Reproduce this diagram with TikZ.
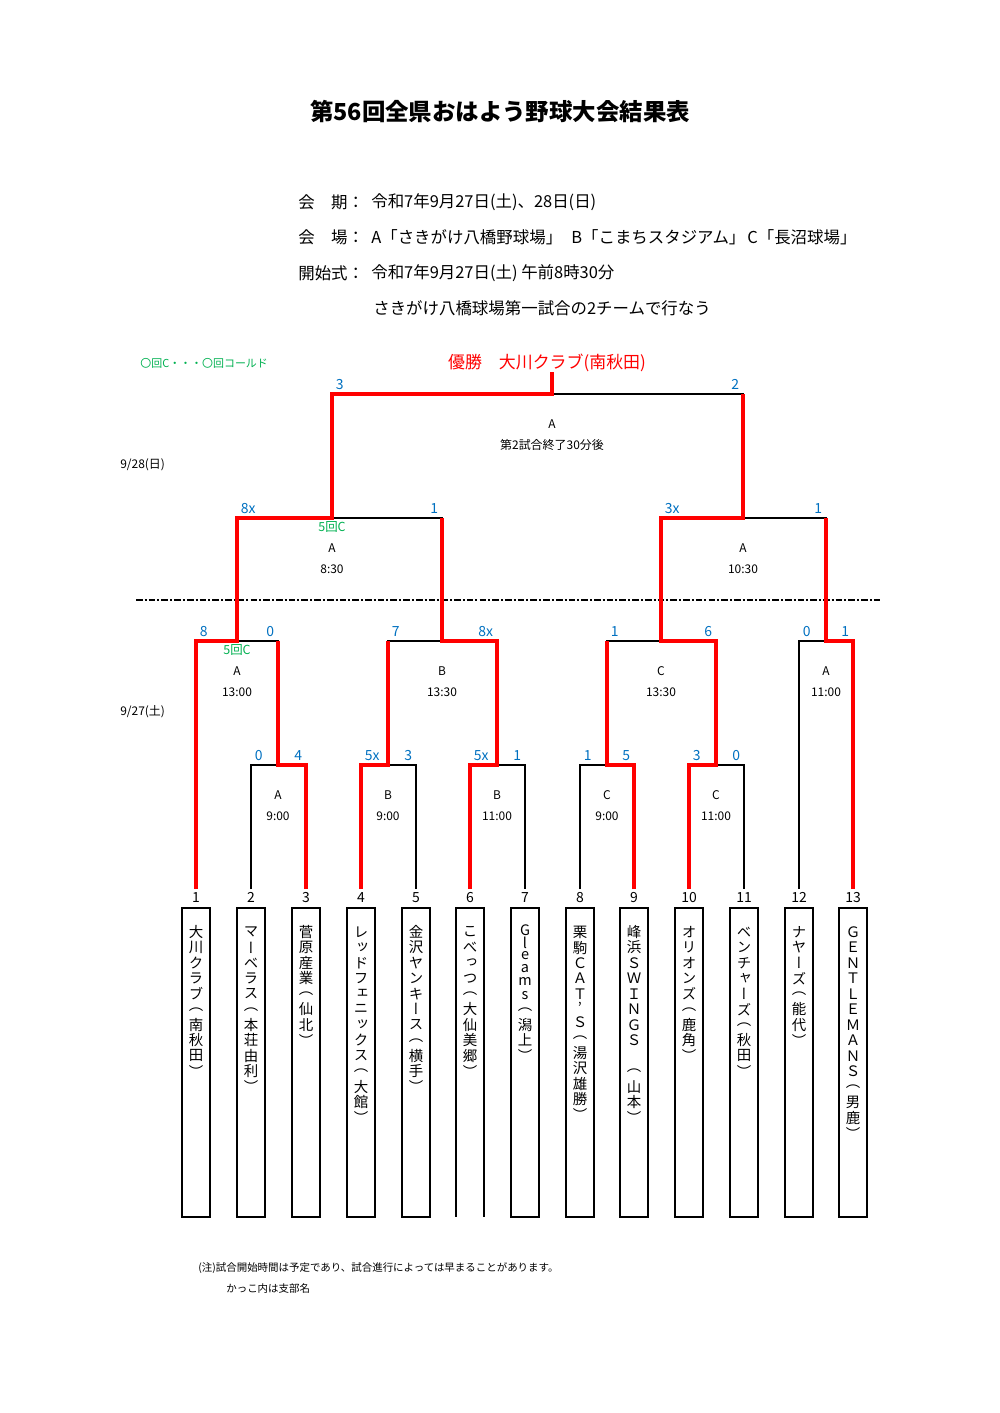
\documentclass[tikz,border=0pt]{standalone}
\usepackage{fontspec}
\setmainfont{Noto Sans CJK JP}
\newfontfamily\tatefont[RawFeature={+vert}]{Noto Sans CJK JP}
\usetikzlibrary{positioning,calc}

\definecolor{winred}{RGB}{255,0,0}
\definecolor{scoreblue}{RGB}{0,112,192}
\definecolor{coldgreen}{RGB}{0,176,80}

\tikzstyle{bline}=[draw,line width=0.8pt]
\tikzstyle{win}=[draw,winred,line width=1.9pt]
\tikzstyle{boxline}=[draw,line width=1.1pt]
\tikzstyle{teambox}=[minimum width=27*0.021cm,minimum height=308*0.021cm,anchor=north,inner sep=0pt]
\tikzstyle{teamname}=[font={\tatefont\fs{14.5}},inner sep=0pt]
\tikzstyle{teamno}=[font=\fs{14},inner sep=0pt]
\tikzstyle{score}=[font=\fs{14},text=scoreblue,inner sep=0pt]
\tikzstyle{venue}=[font=\fs{12},inner sep=0pt]
\tikzstyle{coldmark}=[font=\fs{12.5},text=coldgreen,inner sep=0pt]
\tikzstyle{headtext}=[font=\fs{16.5},inner sep=0pt,anchor=west]

% font size given in pixels of the sheet
\newcommand{\fs}[1]{\fontsize{\fpeval{#1*0.5953}pt}{\fpeval{#1*0.7144}pt}\selectfont}
% team names written top to bottom, one character per slot
\newcommand{\tate}[1]{\vtop{\offinterlineskip\expandafter\tateaux#1\relax}}
\def\tateaux#1{\ifx\relax#1\else
  \setbox0=\hbox{#1}\dimen0=\wd0 \ifdim\dimen0<0.8em \dimen0=0.8em\fi
  \hbox to 1.2em{\hss\vbox to \dimexpr\dimen0+0.6pt\relax{\vss\box0\vss}\hss}%
  \expandafter\tateaux\fi}

\begin{document}
\begin{tikzpicture}[x=0.021cm, y=-0.021cm]
    \useasboundingbox (0,0) rectangle (1000,1413);

    % Title and the lines under it
    \node[font=\bfseries\fs{23.5}] (title) at (500,111) {第56回全県おはよう野球大会結果表};
    \node[headtext] (kaikil) at (298,202) {会　期：};
    \node[headtext] (kaiki) at (371,202) {令和7年9月27日(土)、28日(日)};
    \node[headtext] (kaijol) at (298,237) {会　場：};
    \node[headtext] (kaijoa) at (371,237) {A「さきがけ八橋野球場」};
    \node[headtext] (kaijob) at (571,237) {B「こまちスタジアム」};
    \node[headtext] (kaijoc) at (747,237) {C「長沼球場」};
    \node[headtext] (shikil) at (298,273) {開始式：};
    \node[headtext] (shiki) at (371,273) {令和7年9月27日(土) 午前8時30分};
    \node[headtext] (shiki2) at (373,308) {さきがけ八橋球場第一試合の2チームで行なう};

    \node[coldmark, font=\fs{11}, anchor=west] (legend) at (140,363) {〇回C・・・〇回コールド};
    \node[font=\fs{17}, text=winred, inner sep=0pt] (champ) at (547,363) {優勝　大川クラブ(南秋田)};
    \node[venue, anchor=west] (day2) at (120,465) {9/28(日)};
    \node[venue, anchor=west] (day1) at (120,712) {9/27(土)};
    \node[coldmark] (coldsemi) at (332,527) {5回C};
    \node[coldmark] (coldquarter) at (237,650) {5回C};
    \coordinate (dl) at (136,600);
    \coordinate (dr) at (880,600);
    \draw[dash pattern=on 4pt off 1.2pt on 1.2pt off 1.2pt, line width=0.8pt] (dl) -- (dr);

    % First we draw the teams
    \foreach \x/\i/\name in {196/1/大川クラブ（南秋田）, 251/2/マーベラス（本荘由利）, 306/3/菅原産業（仙北）,
        361/4/レッドフェニックス（大館）, 416/5/金沢ヤンキース（横手）, 470/6/こべっつ（大仙美郷）,
        525/7/Gleams（潟上）, 580/8/栗駒ＣＡＴ’Ｓ（湯沢雄勝）, 634/9/峰浜ＳＷＩＮＧＳ　（山本）,
        689/10/オリオンズ（鹿角）, 744/11/ベンチャーズ（秋田）, 799/12/ナヤーズ（能代）,
        853/13/ＧＥＮＴＬＥＭＡＮＳ（男鹿）}{
        \node[teambox] (t\i) at (\x,908) {};
        \node[teamno, above=0.1cm of t\i] (n\i) {\i};
        \node[teamname, below=0.336cm of t\i.north] (name\i) {\tate{\name}};
        \coordinate (b\i) at (\x,889);
    }
    \foreach \i in {1,2,3,4,5,7,8,9,10,11,12,13}
        \path[boxline] (t\i.south west) rectangle (t\i.north east);
    \path[boxline] (t6.south west) -- (t6.north west) -- (t6.north east) -- (t6.south east);

    % Then the games
    \foreach \pos/\name in {{(278,765)/m1}, {(388,765)/m2}, {(497,765)/m3}, {(607,765)/m4}, {(716,765)/m5},
        {(237,641)/q1}, {(442,641)/q2}, {(661,641)/q3}, {(826,641)/q4},
        {(332,518)/s1}, {(743,518)/s2}, {(552,394)/f}, {(552,372)/top}}
        \node[coordinate] (\name) at \pos {};
    \foreach \lc/\jc/\rc/\ls/\rs/\vn/\tm in {b2/m1/b3/0/4/A/9:00, b4/m2/b5/5x/3/B/9:00, b6/m3/b7/5x/1/B/11:00,
        b8/m4/b9/1/5/C/9:00, b10/m5/b11/3/0/C/11:00, b1/q1/m1/8/0/A/13:00, m2/q2/m3/7/8x/B/13:30,
        m4/q3/m5/1/6/C/13:30, b12/q4/b13/0/1/A/11:00, q1/s1/q2/8x/1/A/8:30, q3/s2/q4/3x/1/A/10:30,
        s1/f/s2/3/2/A/第2試合終了30分後}{
        \path[bline] (\lc) |- (\jc) -| (\rc);
        \node[score, anchor=base west] (sl\jc) at ($(\lc |- \jc)+(3.5,-5)$) {\ls};
        \node[score, anchor=base east] (sr\jc) at ($(\rc |- \jc)+(-3.5,-5)$) {\rs};
        \node[venue] (vn\jc) at ($(\jc)+(0,30)$) {\vn};
        \node[venue] (tm\jc) at ($(\jc)+(0,51)$) {\tm};
    }

    % Winners in red
    \path[win] (b1) |- (q1) |- (s1) |- (f) -- (top);
    \path[win] (b3) |- (m1) -- (m1 |- q1);
    \path[win] (b4) |- (m2) -- (m2 |- q2);
    \path[win] (b6) |- (m3) |- (q2) -- (q2 |- s1);
    \path[win] (b9) |- (m4) -- (m4 |- q3);
    \path[win] (b10) |- (m5) |- (q3) |- (s2) -- (s2 |- f);
    \path[win] (b13) |- (q4) -- (q4 |- s2);

    % Notes
    \node[font=\fs{10.5}, anchor=west, inner sep=0pt] (note1) at (198,1268) {(注)試合開始時間は予定であり、試合進行によっては早まることがあります。};
    \node[font=\fs{10.5}, anchor=west, inner sep=0pt] (note2) at (226,1289) {かっこ内は支部名};
\end{tikzpicture}
\end{document}
